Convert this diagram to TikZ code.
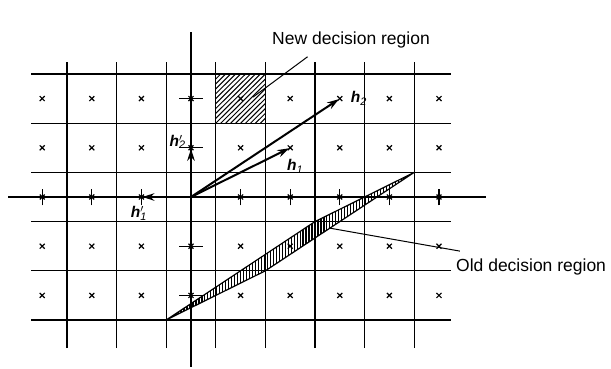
\documentclass[tikz,border=0pt]{standalone}
\usepackage{fontspec}
\setmainfont{Liberation Sans}
\usetikzlibrary{arrows.meta,positioning}

\newcommand\hv[1]{\textbf{\textit{h}}\textsubscript{\textit{#1}}}
\newcommand\hvp[1]{\textbf{\textit{h}}\rlap{$'$}\textsubscript{\textit{#1}}}
\newcommand\latpt[2]{\draw[tick] (#1,#2) +(-0.05,-0.05) -- +(0.05,0.05) +(-0.05,0.05) -- +(0.05,-0.05);}

\begin{document}
\begin{tikzpicture}[
  x=49.6pt, y=49.2pt, >={Stealth[length=12pt,width=7.5pt]},
  gridline/.style={line width=1.3pt},
  axis/.style={line width=2.1pt},
  vec/.style={->, line width=2pt, shorten >=1pt},
  tick/.style={line width=1.2pt},
  hatch/.style={line width=1pt},
  leader/.style={line width=1pt},
  lab/.style={font=\fontsize{17.5}{20}\selectfont, inner sep=0pt},
  vlab/.style={font=\fontsize{15.5}{18}\selectfont, inner sep=0pt}
]
\useasboundingbox (-3.851,-3.496) rectangle (8.468,4.004);

%% grid
\foreach \y in {-2.5,-1.5,...,2.5} \draw[gridline] (-3.22,\y) -- (5.24,\y);
\foreach \x in {-2.5,-1.5,...,4.5} \draw[gridline] (\x,-3.07) -- (\x,2.74);

%% axes
\draw[axis] (-3.68,0) -- (5.95,0);
\draw[axis] (0,-3.45) -- (0,3.35);

%% lattice points
\foreach \i in {-3,...,5} {
  \foreach \j in {-2,-1,1,2} {\latpt{\i}{\j}}
}
\foreach \i in {-3,-2,-1,1,2,3,4,5} {
  \latpt{\i}{0}
  \draw[tick] (\i,-0.17) -- (\i,0.17);
}
\foreach \j in {-2,-1,1,2} \draw[tick] (-0.24,\j) -- (0.24,\j);

%% new decision region
\begin{scope}
  \clip (0.5,1.5) rectangle (1.5,2.5);
  \foreach \s in {-1,-0.9,...,1} \draw[hatch] (0.5+\s,1.5) -- +(1,1);
\end{scope}

%% old decision region
\coordinate (oa) at (-0.5,-2.5);
\coordinate (ob) at (1.5,-1.5);
\coordinate (oc) at (4.5,0.5);
\coordinate (od) at (2.5,-0.5);
\begin{scope}
  \clip (oa) -- (ob) -- (oc) -- (od) -- cycle;
  \foreach \x in {-0.5,-0.44,...,4.5} \draw[hatch, line width=1.2pt] (\x,-2.6) -- (\x,0.6);
\end{scope}
\draw[leader, line width=1.2pt] (oa) -- (ob) -- (oc) -- (od) -- cycle;

%% basis vectors
\coordinate (o) at (0,0);
\coordinate (h1) at (2,1);
\coordinate (h2) at (3,2);
\coordinate (h1p) at (-1,0);
\coordinate (h2p) at (0,1);
\draw[vec] (o) -- (h1);
\draw[vec] (o) -- (h2);
\draw[vec] (o) -- (h1p);
\draw[vec] (o) -- (h2p);
\node[vlab, anchor=west] (h2lab) at (3.22,2.0) {\hv{2}};
\node[vlab] (h1lab) at (2.1,0.62) {\hv{1}};
\node[vlab] (h2plab) at (-0.27,1.12) {\hvp{2}};
\node[vlab] (h1plab) at (-1.05,-0.33) {\hvp{1}};

%% labels
\node[lab] (newlbl) at (3.226,3.19) {New decision region};
\node[lab, anchor=west] (oldlbl) at (5.343,-1.423) {Old decision region};
\coordinate (newtail) at (2.35,2.85);
\coordinate (newin) at (1.25,2.03);
\draw[leader] (newtail) -- (newin);
\coordinate (oldin) at (2.78,-0.63);
\coordinate (oldtail) at (5.42,-1.1);
\draw[leader] (oldin) -- (oldtail);
\end{tikzpicture}
\end{document}
